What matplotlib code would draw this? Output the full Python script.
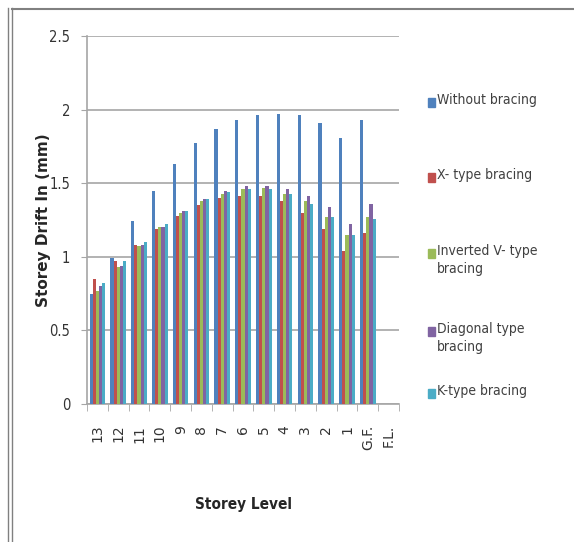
import numpy as np
import matplotlib.pyplot as plt
from matplotlib.lines import Line2D
from matplotlib.patches import Rectangle

# Storey drift per level
niveis = ["13", "12", "11", "10", "9", "8", "7", "6", "5", "4", "3", "2", "1", "G.F.", "F.L."]
sem_contraventamento = [0.75, 0.99, 1.24, 1.45, 1.63, 1.77, 1.87, 1.93, 1.96, 1.97, 1.96, 1.91, 1.81, 1.93, 0]
tipo_x = [0.85, 0.97, 1.08, 1.19, 1.28, 1.35, 1.40, 1.41, 1.41, 1.38, 1.30, 1.19, 1.04, 1.16, 0]
v_invertido = [0.77, 0.93, 1.07, 1.20, 1.30, 1.38, 1.43, 1.46, 1.47, 1.43, 1.38, 1.27, 1.15, 1.27, 0]
diagonal = [0.80, 0.94, 1.08, 1.20, 1.31, 1.39, 1.45, 1.48, 1.48, 1.46, 1.41, 1.34, 1.22, 1.36, 0]
tipo_k = [0.82, 0.97, 1.10, 1.22, 1.31, 1.39, 1.44, 1.46, 1.46, 1.43, 1.36, 1.27, 1.15, 1.26, 0]

series = [sem_contraventamento, tipo_x, v_invertido, diagonal, tipo_k]
rotulos = ["Without bracing", "X- type bracing", "Inverted V- type\nbracing",
           "Diagonal type\nbracing", "K-type bracing"]
cores = ["#4F81BD", "#C0504D", "#9BBB59", "#8064A2", "#4BACC6"]

estreita = dict(family="DejaVu Sans", stretch="condensed")

fig = plt.figure(figsize=(5.74, 5.42), dpi=100)
ax = fig.add_axes([0.1516, 0.2546, 0.5436, 0.679])

x = np.arange(len(niveis))
largura = 0.15
for i, (valores, cor) in enumerate(zip(series, cores)):
    ax.bar(x + (i - 2) * largura, valores, width=largura, color=cor, zorder=3)

ax.set_xlim(-0.5, len(niveis) - 0.5)
ax.set_ylim(0, 2.5)
ax.set_yticks([0, 0.5, 1, 1.5, 2, 2.5])
ax.set_yticklabels(["0", "0.5", "1", "1.5", "2", "2.5"], fontsize=10.5, color="#333333", **estreita)
ax.yaxis.grid(True, color="#a6a6a6", linewidth=1.2, zorder=0)
ax.set_axisbelow(True)

ax.set_xticks(x)
ax.set_xticklabels(niveis, rotation=90, fontsize=10, va="top", color="#333333")
ax.tick_params(axis="x", length=0, pad=15)
ax.set_xticks(np.arange(-0.5, len(niveis)), minor=True)
ax.tick_params(axis="x", which="minor", length=5, color="#a6a6a6", direction="out")
ax.tick_params(axis="y", length=4, color="#a6a6a6", pad=8)

for lado in ["top", "right"]:
    ax.spines[lado].set_visible(False)
for lado in ["left", "bottom"]:
    ax.spines[lado].set_color("#a6a6a6")
    ax.spines[lado].set_linewidth(1.2)

ax.set_ylabel("Storey Drift In (mm)", fontsize=11, fontweight="bold", color="#262626")
ax.yaxis.set_label_coords(-0.115, 0.5)
ax.set_xlabel("Storey Level", fontsize=11, fontweight="bold", labelpad=34, color="#262626", **estreita)

# legenda manual, posicionada como no original
topos = [102, 177, 253, 331, 393]
for y_px, rot, cor in zip(topos, rotulos, cores):
    yf = 1 - y_px / 542
    fig.patches.append(Rectangle((428 / 574, yf - 5 / 542), 7 / 574, 9 / 542,
                                 transform=fig.transFigure, color=cor))
    fig.text(437 / 574, yf + 9 / 542, rot, fontsize=10,
             va="top", ha="left", color="#404040", linespacing=1.4, **estreita)

# moldura
for xx in [8 / 574, 12 / 574]:
    fig.add_artist(Line2D([xx, xx], [0, 1 - 8 / 542], transform=fig.transFigure,
                          color="#808080", linewidth=1))
fig.add_artist(Line2D([12 / 574, 1], [1 - 9 / 542, 1 - 9 / 542], transform=fig.transFigure,
                      color="#808080", linewidth=1.5))

plt.savefig("out.png", dpi=100)
